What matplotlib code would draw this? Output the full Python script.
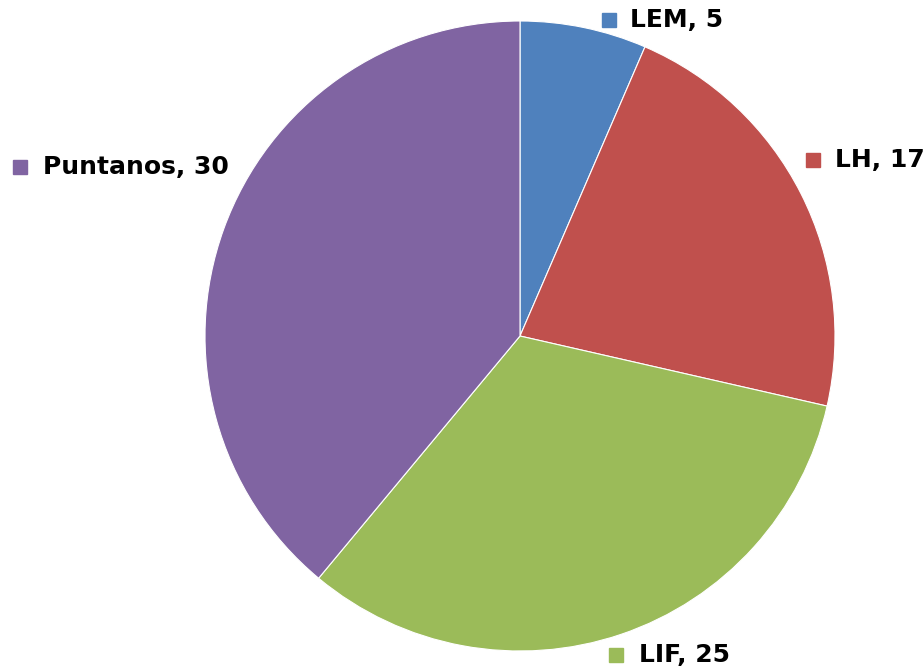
import matplotlib
matplotlib.use("Agg")
import matplotlib.pyplot as plt

labels = ["LEM", "LH", "LIF", "Puntanos"]
values = [5, 17, 25, 30]
colors = ["#4F81BD", "#C0504D", "#9BBB59", "#8064A2"]

W, H = 924, 671
fig = plt.figure(figsize=(W / 100, H / 100), dpi=100)
ax = fig.add_axes([0, 0, 1, 1])

ax.pie(values, colors=colors, startangle=90, counterclock=False,
       center=(520, H - 336), radius=315,
       wedgeprops=dict(edgecolor="white", linewidth=0.8))

# pie() resets the limits, so set them afterwards
ax.set_xlim(0, W)
ax.set_ylim(0, H)
ax.set_aspect("equal")
ax.axis("off")

# label anchor: square marker centre (pixels from top-left), text left edge
label_pos = [(609, 20, 630), (813, 160, 835), (616, 655, 639), (20, 167, 43)]
for (name, val, col, (mx, my, tx)) in zip(labels, values, colors, label_pos):
    ax.plot(mx, H - my, marker="s", markersize=10.5, color=col, linestyle="none",
            clip_on=False)
    ax.text(tx, H - my, f"{name}, {val}", fontsize=18, fontweight="bold",
            ha="left", va="center", color="black")

fig.savefig("out.png", dpi=100)
